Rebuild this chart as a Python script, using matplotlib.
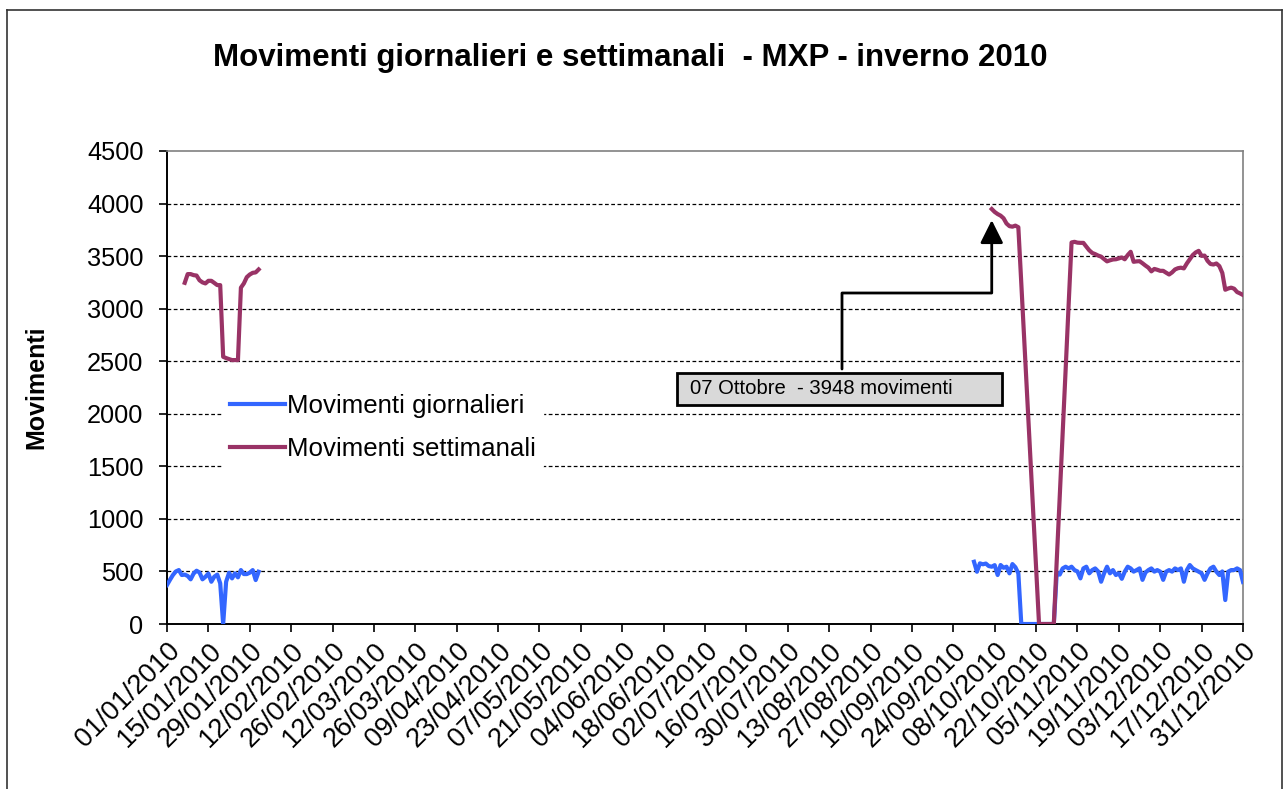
import matplotlib
matplotlib.use("Agg")
import matplotlib.pyplot as plt
from matplotlib.lines import Line2D
from matplotlib.patches import Rectangle
import pandas as pd

plt.rcParams['font.family'] = ['Liberation Sans', 'DejaVu Sans']

# ---------------- data ----------------
title = "Movimenti giornalieri e settimanali  - MXP - inverno 2010"
y_label = "Movimenti"
label_daily = "Movimenti giornalieri"
label_weekly = "Movimenti settimanali"
note_text = "07 Ottobre  - 3948 movimenti"
note_date = "2010-10-07"
note_value = 3948

jan_daily_start = "2010-01-01"
jan_daily = [371, 420, 466, 500, 513, 466, 470, 457, 425, 480, 507, 490, 425, 449,
             480, 402, 450, 470, 387, 0, 402, 488, 434, 482, 444, 513, 475, 475,
             488, 513, 418, 497]

jan_weekly_start = "2010-01-07"
jan_weekly = [3246, 3329, 3329, 3319, 3315, 3270, 3250, 3240, 3265, 3265, 3245, 3224,
              3224, 2542, 2530, 2520, 2511, 2511, 2511, 3200, 3240, 3300, 3325, 3341,
              3345, 3373]

aut_daily_start = "2010-10-01"
aut_daily = [592, 497, 577, 568, 575, 551, 545, 560, 466, 561, 535, 545, 482, 570, 540, 482,
             0, 0, 0, 0, 0, 0, 0, 0, 0, 0, 0, 0,
             490, 470, 529, 545, 529, 545, 513, 500, 434, 529, 545, 482, 513, 529, 500, 402,
             482, 545, 482, 513, 466, 482, 430,
             498, 545, 529, 498, 513, 529, 420, 490, 513, 529, 498, 513, 498, 420, 498, 513,
             498, 529, 513, 529, 402, 513, 561, 529, 513, 498, 482, 420, 482, 529, 545, 498,
             466, 500, 228, 498, 513, 513, 529, 513, 400]

aut_weekly_start = "2010-10-07"
aut_weekly = [3948, 3920, 3900, 3885, 3860, 3810, 3785, 3780, 3790, 3775,
              3240, 2700, 2160, 1620, 1080, 540,
              0, 0, 0, 0, 0, 0,
              610, 1210, 1820, 2420, 3030, 3630,
              3636, 3628, 3626, 3626, 3590, 3555, 3530, 3519, 3505, 3495, 3472, 3450,
              3460, 3468, 3470, 3478, 3487, 3470, 3510, 3541, 3446, 3450, 3452, 3432,
              3410, 3390, 3355, 3378, 3370, 3360, 3360, 3342, 3325, 3345, 3373, 3385,
              3390, 3383, 3430, 3470, 3510, 3535, 3550, 3502, 3505, 3455, 3425, 3420,
              3430, 3405, 3340, 3180, 3192, 3200, 3190, 3158, 3145, 3130]

x_start = "2010-01-01"
x_end = "2010-12-31"
tick_step_days = 14
y_ticks = [0, 500, 1000, 1500, 2000, 2500, 3000, 3500, 4000, 4500]

c_daily = "#3366FF"
c_weekly = "#993366"

# ---------------- figure ----------------
W, H = 1286, 789
fig = plt.figure(figsize=(W / 100, H / 100), dpi=100)
fig.patch.set_facecolor("white")

# outer chart border
fig.add_artist(Line2D([7 / W, 7 / W], [0, 1 - 10 / H], color="#333333", lw=1.2))
fig.add_artist(Line2D([7 / W, 1282 / W], [1 - 10 / H, 1 - 10 / H], color="#333333", lw=1.2))
fig.add_artist(Line2D([1282 / W, 1282 / W], [0, 1 - 10 / H], color="#333333", lw=1.2))

AX_L, AX_R, AX_T, AX_B = 167, 1243, 151, 624
AW, AH = AX_R - AX_L, AX_B - AX_T
ax = fig.add_axes([AX_L / W, 1 - AX_B / H, AW / W, AH / H])


def dates(start, n):
    return pd.date_range(start, periods=n, freq="D")


ax.plot(dates(jan_daily_start, len(jan_daily)), jan_daily, color=c_daily, lw=3,
        solid_joinstyle="round", label=label_daily, zorder=3)
ax.plot(dates(aut_daily_start, len(aut_daily)), aut_daily, color=c_daily, lw=3,
        solid_joinstyle="round", zorder=3)
ax.plot(dates(jan_weekly_start, len(jan_weekly)), jan_weekly, color=c_weekly, lw=3,
        solid_joinstyle="round", label=label_weekly, zorder=4)
ax.plot(dates(aut_weekly_start, len(aut_weekly)), aut_weekly, color=c_weekly, lw=3,
        solid_joinstyle="round", zorder=4)

ax.set_xlim(pd.Timestamp(x_start), pd.Timestamp(x_end))
ax.set_ylim(y_ticks[0], y_ticks[-1])
ax.set_yticks(y_ticks)
xt = pd.date_range(x_start, x_end, freq=f"{tick_step_days}D")
ax.set_xticks(xt)
ax.set_xticklabels([d.strftime("%d/%m/%Y") for d in xt], rotation=45, ha="right",
                   rotation_mode="anchor", fontsize=19.5)
ax.tick_params(axis="y", labelsize=18.3, length=6, width=1.2, direction="out", pad=11)
ax.tick_params(axis="x", length=6, width=1.2, direction="out", pad=4)

for v in y_ticks[1:-1]:
    ax.axhline(v, color="black", lw=0.9, ls=(0, (3, 2)), zorder=1)

for s in ["left", "bottom"]:
    ax.spines[s].set_color("black")
    ax.spines[s].set_linewidth(1.4)
for s in ["top", "right"]:
    ax.spines[s].set_color("#808080")
    ax.spines[s].set_linewidth(1.2)

ax.set_ylabel(y_label, fontsize=18, fontweight="bold")
ax.yaxis.set_label_coords(-(AX_L - 48) / AW, 0.5)

fig.text(630 / W, 1 - 58 / H, title, fontsize=22.5, fontweight="bold",
         ha="center", va="center")

leg = ax.legend(loc="upper left", bbox_to_anchor=((222 - AX_L) / AW, (AX_B - 386) / AH),
                frameon=True, fontsize=18.6, handlelength=2.15, handletextpad=0.05,
                labelspacing=0.75, borderpad=0.3, borderaxespad=0)
leg.get_frame().set_edgecolor("white")
leg.get_frame().set_facecolor("white")
leg.get_frame().set_alpha(1)
leg.set_zorder(5)

# annotation box
bx0, bx1, by0, by1 = 677, 1002, 405, 373
ax.add_patch(Rectangle(((bx0 - AX_L) / AW, (AX_B - by0) / AH),
                       (bx1 - bx0) / AW, (by0 - by1) / AH,
                       transform=ax.transAxes, facecolor="#d9d9d9",
                       edgecolor="black", lw=2, zorder=6))
ax.text((690 - AX_L) / AW, (AX_B - (by0 + by1) / 2) / AH, note_text,
        transform=ax.transAxes, ha="left", va="center", fontsize=14.6, zorder=7)
# connector: from box top up, across, then up to the point (arms in pixels)
ax.annotate("", xy=(pd.Timestamp(note_date), note_value),
            xytext=((842 - AX_L) / AW, (AX_B - 369) / AH), textcoords="axes fraction",
            arrowprops=dict(arrowstyle="-|>,head_length=0.7,head_width=0.35",
                            connectionstyle="arc,angleA=90,armA=76,angleB=-90,armB=84,rad=0",
                            color="black", lw=2, shrinkA=0, shrinkB=8,
                            mutation_scale=20),
            zorder=7)

fig.savefig("out.png", dpi=100, facecolor="white")
